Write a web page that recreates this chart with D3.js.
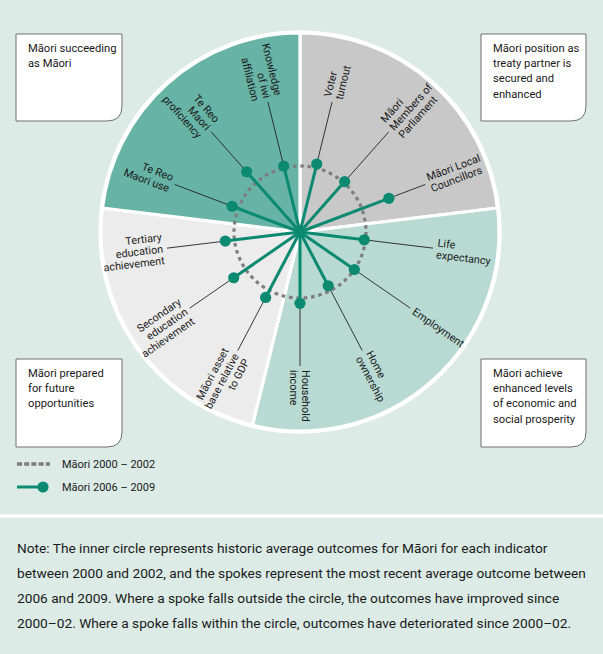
<!DOCTYPE html>
<html>
<head>
<meta charset="utf-8">
<script src="https://cdn.jsdelivr.net/npm/d3@7"></script>
<style>
  html, body { margin: 0; padding: 0; background: #dcebe6; }
  svg { display: block; }
  text { font-family: Roboto, "Noto Sans", sans-serif; fill: #1a1a1a; }
</style>
</head>
<body>
<svg id="chart" width="603" height="654"></svg>
<script>
// ---------- DATA ----------
const indicators = [
  "Voter turnout", "Māori Members of Parliament", "Māori Local Councillors",
  "Life expectancy", "Employment", "Home ownership", "Household income",
  "Māori asset base relative to GDP", "Secondary education achievement",
  "Tertiary education achievement", "Te Reo Maori use", "Te Reo Maori proficiency",
  "Knowledge of iwi affiliation"
];
const labelLines = [
  ["Voter", "turnout"], ["Māori", "Members of", "Parliament"], ["Māori Local", "Councillors"],
  ["Life", "expectancy"], ["Employment"], ["Home", "ownership"], ["Household", "income"],
  ["Māori asset", "base relative", "to GDP"], ["Secondary", "education", "achievement"],
  ["Tertiary", "education", "achievement"], ["Te Reo", "Maori use"], ["Te Reo", "Maori", "proficiency"],
  ["Knowledge", "of iwi", "affiliation"]
];
// Inner circle = historic average 2000–2002 (index 100)
const baseline2000 = 100;
// Spokes = average outcome 2006–2009, relative to 2000–2002 (index)
const values2006 = [106, 102, 144, 98, 100, 92, 108, 112, 122, 114, 110, 122, 103];
const indicatorGroup = [0, 0, 0, 1, 1, 1, 1, 2, 2, 2, 3, 3, 3];
const groupNames = [
  ["Māori position as", "treaty partner is", "secured and", "enhanced"],
  ["Māori achieve", "enhanced levels", "of economic and", "social prosperity"],
  ["Māori prepared", "for future", "opportunities"],
  ["Māori succeeding", "as Māori"]
];
const groupColors = ["#c8c8c9", "#b8dad3", "#ececec", "#67b3a6"];
const legendLabels = ["Māori 2000 – 2002", "Māori 2006 – 2009"];
const noteLines = [
  "Note: The inner circle represents historic average outcomes for Māori for each indicator",
  "between 2000 and 2002, and the spokes represent the most recent average outcome between",
  "2006 and 2009. Where a spoke falls outside the circle, the outcomes have improved since",
  "2000–02. Where a spoke falls within the circle, outcomes have deteriorated since 2000–02."
];

// ---------- LAYOUT ----------
const svg = d3.select("#chart");
const W = 603, H = 654;
const cx = 300, cy = 232, R = 199;
const spokeColor = "#0b8a71";

svg.append("rect").attr("width", W).attr("height", H).attr("fill", "#dcebe6");

const angle = d3.scaleBand().domain(indicators).range([0, 2 * Math.PI]).padding(0);
const rScale = d3.scaleLinear().domain([0, baseline2000]).range([0, 66]);
const mid = d => angle(d) + angle.bandwidth() / 2;

const g = svg.append("g").attr("transform", `translate(${cx},${cy})`);

// sectors
const groups = d3.range(groupNames.length).map(k => {
  const members = indicators.filter((d, i) => indicatorGroup[i] === k);
  return {
    k,
    startAngle: angle(members[0]),
    endAngle: angle(members[members.length - 1]) + angle.bandwidth()
  };
});
const arc = d3.arc().innerRadius(0).outerRadius(R);
g.selectAll("path.sector").data(groups).join("path")
  .attr("class", "sector")
  .attr("d", arc)
  .attr("fill", d => groupColors[d.k])
  .attr("stroke", "#ffffff")
  .attr("stroke-width", 3.2)
  .attr("stroke-linejoin", "miter");
// outer white rim
g.append("circle").attr("r", R + 1).attr("fill", "none")
  .attr("stroke", "#ffffff").attr("stroke-width", 3.5);

// inner dashed circle (2000–2002)
g.append("circle").attr("r", rScale(baseline2000))
  .attr("fill", "none").attr("stroke", "#7d7d7d")
  .attr("stroke-width", 3.2).attr("stroke-dasharray", "3.6,3.8");

const pt = (a, r) => [Math.sin(a) * r, -Math.cos(a) * r];

// leader lines
const leaderEnd = 134, labelStart = 138;
g.selectAll("line.leader").data(indicators).join("line")
  .attr("class", "leader")
  .attr("x1", (d, i) => pt(mid(d), rScale(values2006[i]))[0])
  .attr("y1", (d, i) => pt(mid(d), rScale(values2006[i]))[1])
  .attr("x2", d => pt(mid(d), leaderEnd)[0])
  .attr("y2", d => pt(mid(d), leaderEnd)[1])
  .attr("stroke", "#222").attr("stroke-width", 0.9);

// spokes
g.selectAll("line.spoke").data(indicators).join("line")
  .attr("class", "spoke")
  .attr("x1", 0).attr("y1", 0)
  .attr("x2", (d, i) => pt(mid(d), rScale(values2006[i]))[0])
  .attr("y2", (d, i) => pt(mid(d), rScale(values2006[i]))[1])
  .attr("stroke", spokeColor).attr("stroke-width", 3);
g.selectAll("circle.dot").data(indicators).join("circle")
  .attr("class", "dot")
  .attr("cx", (d, i) => pt(mid(d), rScale(values2006[i]))[0])
  .attr("cy", (d, i) => pt(mid(d), rScale(values2006[i]))[1])
  .attr("r", 5.6).attr("fill", spokeColor);

// labels
const lh = 11.8;
indicators.forEach((d, i) => {
  const a = mid(d);
  const deg = a * 180 / Math.PI;
  const right = deg <= 180.5;
  const rot = right ? deg - 90 : deg - 270;
  const p = pt(a, labelStart);
  const lines = labelLines[i];
  const t = g.append("text")
    .attr("transform", `translate(${p[0]},${p[1]}) rotate(${rot})`)
    .attr("text-anchor", right ? "start" : "end")
    .attr("font-size", 10.8);
  lines.forEach((ln, k) => {
    t.append("tspan").attr("x", 0)
      .attr("y", (k - (lines.length - 1) / 2) * lh + 3.8)
      .text(ln);
  });
});

// corner boxes
const boxes = [
  { k: 3, x: 16, y: 34, w: 106, h: 87 },
  { k: 0, x: 481, y: 34, w: 105, h: 87 },
  { k: 2, x: 16, y: 359, w: 106, h: 88 },
  { k: 1, x: 481, y: 359, w: 105, h: 88 }
];
const cr = 15;
boxes.forEach(b => {
  const p = d3.path();
  p.moveTo(b.x, b.y);
  p.lineTo(b.x + b.w, b.y);
  p.lineTo(b.x + b.w, b.y + b.h - cr);
  p.quadraticCurveTo(b.x + b.w, b.y + b.h, b.x + b.w - cr, b.y + b.h);
  p.lineTo(b.x, b.y + b.h);
  p.closePath();
  svg.append("path").attr("d", p.toString())
    .attr("fill", "#ffffff").attr("stroke", "#6e6e6e").attr("stroke-width", 1);
  const t = svg.append("text").attr("font-size", 11.2);
  groupNames[b.k].forEach((ln, j) => {
    t.append("tspan").attr("x", b.x + 12).attr("y", b.y + 18 + j * 15.2).text(ln);
  });
});

// legend
const lg = svg.append("g");
lg.append("line").attr("x1", 17).attr("x2", 50).attr("y1", 464).attr("y2", 464)
  .attr("stroke", "#7d7d7d").attr("stroke-width", 3.6).attr("stroke-dasharray", "5,2.2");
lg.append("line").attr("x1", 17).attr("x2", 43).attr("y1", 487).attr("y2", 487)
  .attr("stroke", spokeColor).attr("stroke-width", 3);
lg.append("circle").attr("cx", 43).attr("cy", 487).attr("r", 5.6).attr("fill", spokeColor);
lg.selectAll("text").data(legendLabels).join("text")
  .attr("x", 62).attr("y", (d, i) => 468 + i * 23)
  .attr("font-size", 11).text(d => d);

// separator
svg.append("line").attr("x1", 0).attr("x2", W).attr("y1", 516).attr("y2", 516)
  .attr("stroke", "#ffffff").attr("stroke-width", 3);

// note
svg.append("g").selectAll("text").data(noteLines).join("text")
  .attr("x", 17).attr("y", (d, i) => 553 + i * 25)
  .attr("font-size", 13.7).text(d => d);
</script>
</body>
</html>
